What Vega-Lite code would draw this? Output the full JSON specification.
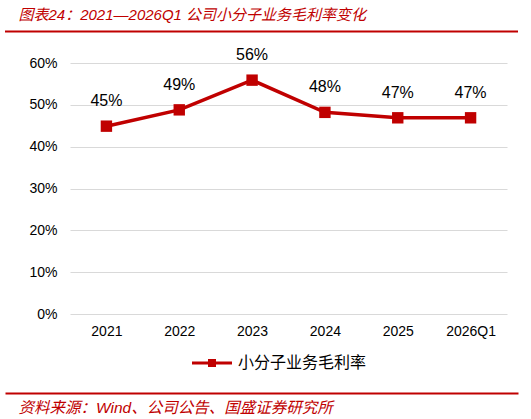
{
  "$schema": "https://vega.github.io/schema/vega-lite/v6.json",
  "autosize": {"type": "none"},
  "padding": {"left": 70, "top": 63, "right": 24, "bottom": 105},
  "width": 437,
  "height": 251,
  "background": "white",
  "config": {
    "font": "Liberation Sans, Noto Sans CJK SC",
    "view": {"stroke": null}
  },
  "resolve": {"scale": {"x": "independent"}},
  "layer": [
    {
      "data": {
        "values": [
          {"period": "2021", "margin": 0.449, "series": "小分子业务毛利率"},
          {"period": "2022", "margin": 0.488, "series": "小分子业务毛利率"},
          {"period": "2023", "margin": 0.559, "series": "小分子业务毛利率"},
          {"period": "2024", "margin": 0.482, "series": "小分子业务毛利率"},
          {"period": "2025", "margin": 0.469, "series": "小分子业务毛利率"},
          {"period": "2026Q1", "margin": 0.469, "series": "小分子业务毛利率"}
        ]
      },
      "encoding": {
        "x": {
          "field": "period",
          "type": "ordinal",
          "sort": null,
          "axis": {
            "orient": "bottom",
            "title": null,
            "labelAngle": 0,
            "domain": false,
            "ticks": false,
            "labelFontSize": 14,
            "labelColor": "#000000",
            "labelPadding": 10,
            "labelFont": "Liberation Sans"
          }
        },
        "y": {
          "field": "margin",
          "type": "quantitative",
          "scale": {"domain": [0, 0.6], "nice": false},
          "axis": {
            "values": [0, 0.1, 0.2, 0.3, 0.4, 0.5, 0.6],
            "format": ".0%",
            "title": null,
            "grid": true,
            "gridColor": "#D9D9D9",
            "gridWidth": 1,
            "domain": false,
            "ticks": false,
            "labelFontSize": 14,
            "labelColor": "#000000",
            "labelPadding": 13,
            "labelFont": "Liberation Sans"
          }
        }
      },
      "layer": [
        {
          "mark": {"type": "line", "strokeWidth": 3.5},
          "encoding": {
            "color": {
              "field": "series",
              "type": "nominal",
              "scale": {"range": ["#C00000"]},
              "legend": {
                "title": null,
                "orient": "none",
                "legendX": 122,
                "legendY": 280,
                "direction": "horizontal",
                "padding": 0,
                "labelFontSize": 16,
                "labelColor": "#000000",
                "labelFont": "Noto Sans CJK SC",
                "labelOffset": 6,
                "symbolType": "M-1,-0.08H1V0.08H-1Z M-0.2,-0.2H0.2V0.2H-0.2Z",
                "symbolSize": 1600,
                "symbolStrokeWidth": 0,
                "symbolFillColor": "#C00000",
                "encode": {
                  "symbols": {
                    "update": {
                      "fill": {"value": "#C00000"},
                      "stroke": {"value": "#C00000"},
                      "strokeWidth": {"value": 0}
                    }
                  }
                }
              }
            }
          }
        },
        {
          "mark": {"type": "point", "shape": "square", "filled": true, "opacity": 1, "size": 130, "color": "#C00000"}
        },
        {
          "mark": {"type": "text", "dy": -25, "fontSize": 16, "color": "#000000", "font": "Liberation Sans", "baseline": "middle"},
          "encoding": {
            "text": {"field": "margin", "type": "quantitative", "format": ".0%"}
          }
        }
      ]
    },
    {
      "data": {"values": [{"start": 0, "end": 1, "level": 0.6755}]},
      "mark": {"type": "rule", "color": "#C00000", "strokeWidth": 2, "clip": false},
      "encoding": {
        "x": {
          "field": "start",
          "type": "quantitative",
          "scale": {"domain": [0, 1], "range": [-65, 448]},
          "axis": {
            "orient": "bottom",
            "offset": -283,
            "domain": false,
            "labels": false,
            "ticks": false,
            "grid": false,
            "title": "图表24：2021—2026Q1 公司小分子业务毛利率变化",
            "titleX": -52,
            "titleY": -17,
            "titleAnchor": "start",
            "titleAlign": "left",
            "titleBaseline": "middle",
            "titleFontSize": 15,
            "titleFontStyle": "italic",
            "titleFontWeight": "normal",
            "titleColor": "#C00000",
            "titleFont": "Liberation Sans, Noto Sans CJK SC"
          }
        },
        "x2": {"field": "end"},
        "y": {"field": "level", "type": "quantitative"}
      }
    },
    {
      "data": {"values": []},
      "mark": "point",
      "encoding": {
        "x": {
          "field": "f",
          "type": "quantitative",
          "scale": {"domain": [0, 1], "range": [-65, 448]},
          "axis": {
            "orient": "bottom",
            "offset": 79,
            "domain": true,
            "domainColor": "#C00000",
            "domainWidth": 2,
            "labels": false,
            "ticks": false,
            "grid": false,
            "title": "资料来源：Wind、公司公告、国盛证券研究所",
            "titleX": -52,
            "titleY": 14,
            "titleAlign": "left",
            "titleBaseline": "middle",
            "titleFontSize": 15.5,
            "titleFontStyle": "italic",
            "titleFontWeight": "normal",
            "titleColor": "#C00000",
            "titleFont": "Liberation Sans, Noto Sans CJK SC"
          }
        }
      }
    }
  ]
}
